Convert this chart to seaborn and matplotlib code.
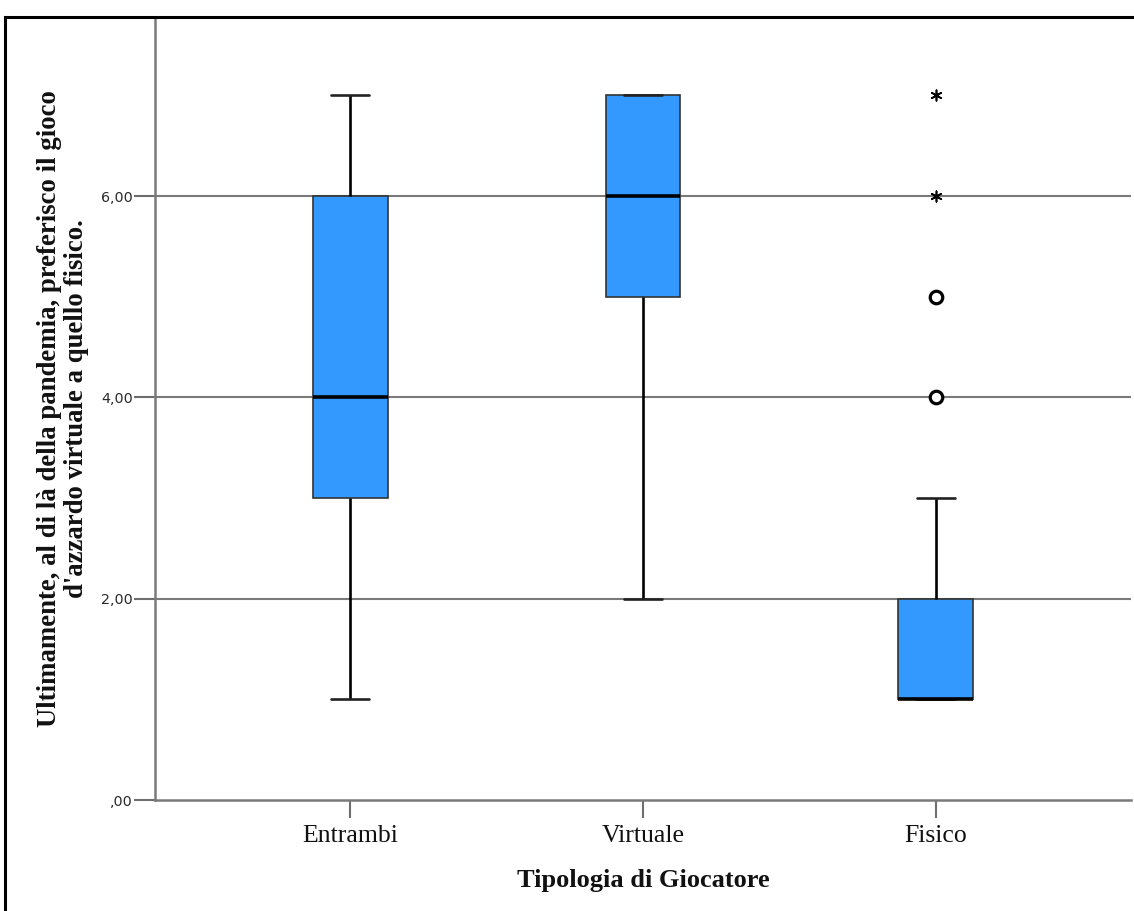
import numpy as np
import pandas as pd
import seaborn as sns
import matplotlib
matplotlib.use("Agg")
import matplotlib.pyplot as plt
from matplotlib.patches import Rectangle

# ---- data (Likert responses 1-7) ----
categories = ["Entrambi", "Virtuale", "Fisico"]
entrambi_values = [1, 2, 3, 3, 3, 4, 4, 4, 5, 6, 6, 6, 7]
virtuale_values = [2, 4, 5, 5, 5, 6, 6, 6, 7, 7, 7, 7, 7]
fisico_values = [1] * 11 + [2] * 5 + [3, 4, 5, 6, 7]
y_ticks = [0, 2, 4, 6]
y_tick_labels = [",00", "2,00", "4,00", "6,00"]

x_label = "Tipologia di Giocatore"
y_label = ("Ultimamente, al di là della pandemia, preferisco il gioco\n"
           "d'azzardo virtuale a quello fisico.")

df = pd.DataFrame({
    "tipo": (["Entrambi"] * len(entrambi_values) + ["Virtuale"] * len(virtuale_values)
             + ["Fisico"] * len(fisico_values)),
    "valore": entrambi_values + virtuale_values + fisico_values,
})

# classify outliers (SPSS style: circles 1.5-3 IQR, stars > 3 IQR)
rows_out, rows_ext = [], []
for cat, g in df.groupby("tipo"):
    q1, q3 = np.percentile(g["valore"], [25, 75])
    iqr = q3 - q1
    for v in g["valore"]:
        if v > q3 + 3 * iqr or v < q1 - 3 * iqr:
            rows_ext.append((cat, v))
        elif v > q3 + 1.5 * iqr or v < q1 - 1.5 * iqr:
            rows_out.append((cat, v))
out_df = pd.DataFrame(rows_out, columns=["tipo", "valore"]).drop_duplicates()
ext_df = pd.DataFrame(rows_ext, columns=["tipo", "valore"]).drop_duplicates()

sns.set_style("white")
W, H, DPI = 1134, 911, 100
fig = plt.figure(figsize=(W / DPI, H / DPI), dpi=DPI)
ax = fig.add_axes([155 / W, 1 - 800 / H, (1131 - 155) / W, (800 - 18) / H])

grid_color = "#7a7a7a"
for yv in y_ticks[1:]:
    ax.axhline(yv, color=grid_color, lw=1.5, zorder=0)

sns.boxplot(data=df, x="tipo", y="valore", order=categories, ax=ax,
            color="#3399ff", saturation=1, width=0.256, showfliers=False,
            whis=1.5,
            boxprops=dict(edgecolor="#333333", linewidth=1.2, zorder=2),
            whiskerprops=dict(color="black", linewidth=1.9),
            capprops=dict(color="#222222", linewidth=1.9),
            medianprops=dict(color="black", linewidth=2.6))

sns.stripplot(data=out_df, x="tipo", y="valore", order=categories, ax=ax,
              jitter=False, marker="o", size=9, color="white",
              edgecolor="black", linewidth=2.3, zorder=5)
sns.stripplot(data=ext_df, x="tipo", y="valore", order=categories, ax=ax,
              jitter=False, marker=(6, 2, 0), size=7.5, color="black",
              edgecolor="black", linewidth=1.2, zorder=5)

ax.set_xlim(-0.666, 2.666)
ax.set_ylim(0, 7.77)
ax.set_yticks(y_ticks)
ax.set_yticklabels(y_tick_labels, fontfamily="DejaVu Sans", fontsize=10.3,
                   color="#2a2a2a")
ax.set_xticks(range(len(categories)))
ax.set_xticklabels(categories, fontfamily="Liberation Serif", fontsize=18.5,
                   color="#111111")
ax.tick_params(axis="y", direction="out", length=15, width=1.5,
               color="#6e6e6e", pad=1, left=True)
ax.tick_params(axis="x", direction="out", length=13, width=1.5,
               color="#6e6e6e", pad=5, bottom=True)

for s in ["top", "right"]:
    ax.spines[s].set_visible(False)
for s in ["left", "bottom"]:
    ax.spines[s].set_color("#7a7a7a")
    ax.spines[s].set_linewidth(1.8)

ax.set_xlabel(x_label, fontfamily="Liberation Serif", fontweight="bold",
              fontsize=19, labelpad=16, color="#111111")
ax.set_ylabel(y_label, fontfamily="Liberation Serif", fontweight="bold",
              fontsize=19.3, labelpad=9, color="#111111", linespacing=1.1)

# outer frame of the figure
fig.add_artist(Rectangle((5 / W, -0.5), 2.0, 0.5 + (1 - 17 / H),
                         transform=fig.transFigure, fill=False,
                         edgecolor="black", linewidth=2.2))

fig.savefig("out.png", dpi=DPI, facecolor="white")
